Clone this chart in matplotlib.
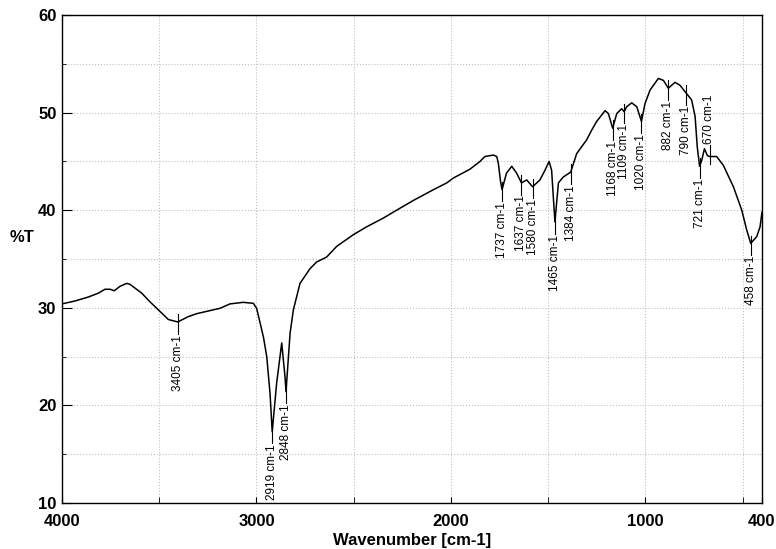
import numpy as np
import matplotlib.pyplot as plt
from matplotlib.ticker import FixedLocator

# IR spectrum (wavenumber in cm-1, %T)
wavenumber = [4000, 3933, 3865, 3813, 3779, 3753, 3731, 3702, 3667, 3650,
              3590, 3547, 3505, 3453, 3405, 3350, 3307, 3187, 3136, 3068,
              3016, 2999, 2964, 2947, 2930, 2919, 2896, 2870, 2853, 2848,
              2827, 2810, 2776, 2725, 2690, 2639, 2587, 2501, 2433, 2347,
              2262, 2193, 2090, 2021, 1987, 1902, 1850, 1825, 1782, 1764,
              1756, 1745, 1737, 1714, 1687, 1662, 1637, 1610, 1580, 1542,
              1516, 1495, 1482, 1465, 1447, 1422, 1384, 1353, 1302, 1276,
              1250, 1207, 1190, 1168, 1147, 1122, 1109, 1096, 1070, 1044,
              1020, 1002, 976, 933, 907, 882, 847, 822, 790, 762,
              744, 733, 721, 710, 696, 681, 670, 633, 599, 547,
              504, 479, 458, 427, 410, 400]
transmittance = [30.4, 30.7, 31.1, 31.5, 31.9, 31.9, 31.75, 32.2, 32.5, 32.4,
                 31.5, 30.6, 29.8, 28.8, 28.55, 29.1, 29.4, 29.95, 30.4, 30.56,
                 30.46, 29.95, 27.0, 25.0, 21.2, 17.3, 22.3, 26.4, 22.9, 21.4,
                 27.4, 29.8, 32.5, 34.0, 34.7, 35.2, 36.3, 37.5, 38.3, 39.2,
                 40.2, 41.0, 42.1, 42.8, 43.3, 44.2, 45.0, 45.5, 45.65, 45.5,
                 44.8, 43.0, 42.1, 43.8, 44.5, 43.8, 42.8, 43.1, 42.4, 43.1,
                 44.1, 45.0, 44.1, 38.8, 42.8, 43.4, 43.9, 45.8, 47.2, 48.2,
                 49.1, 50.2, 49.9, 48.4, 49.9, 50.4, 50.1, 50.6, 51.0, 50.6,
                 49.1, 50.9, 52.3, 53.5, 53.3, 52.5, 53.1, 52.8, 52.0, 51.3,
                 49.6, 46.5, 44.5, 45.1, 46.3, 45.6, 45.5, 45.5, 44.6, 42.4,
                 40.0, 38.0, 36.6, 37.3, 38.3, 39.8]

# labelled peaks
peaks = [3405, 2919, 2848, 1737, 1637, 1580, 1465, 1384,
         1168, 1109, 1020, 882, 790, 721, 670, 458]
peak_T = [28.55, 17.3, 21.4, 42.1, 42.8, 42.4, 38.8, 43.9,
          48.4, 50.1, 49.1, 52.5, 52.0, 44.5, 45.5, 36.6]
label_above = [670]

xticks = [4000, 3000, 2000, 1000, 400]
xminor = [3500, 2500, 1500, 500]

plt.rcParams['font.family'] = ['Liberation Sans', 'DejaVu Sans']

fig = plt.figure(figsize=(7.76, 5.49), dpi=100)
ax = fig.add_axes([62/776, 1-503/549, 700/776, 488/549])

ax.plot(wavenumber, transmittance, color='black', linewidth=1.1)

for wn, t in zip(peaks, peak_T):
    if wn in label_above:
        ax.plot([wn, wn], [t - 0.8, t + 1.2], color='black', linewidth=0.8)
        ax.text(wn, t + 1.3, str(wn) + ' cm-1', rotation=90, fontsize=8.5,
                ha='center', va='bottom')
    else:
        ax.plot([wn, wn], [t + 0.8, t - 1.2], color='black', linewidth=0.8)
        ax.text(wn, t - 1.3, str(wn) + ' cm-1', rotation=90, fontsize=8.5,
                ha='center', va='top')

ax.set_xlim(4000, 400)
ax.set_ylim(10, 60)
ax.xaxis.set_major_locator(FixedLocator(xticks))
ax.xaxis.set_minor_locator(FixedLocator(xminor))
ax.set_yticks([10, 20, 30, 40, 50, 60])
ax.set_yticks([15, 25, 35, 45, 55], minor=True)
ax.tick_params(which='both', direction='in', labelsize=12)
ax.tick_params(axis='x', which='both', length=4, pad=8)
ax.tick_params(axis='y', which='major', length=7, pad=4)
ax.tick_params(axis='y', which='minor', length=3)
for lab in ax.get_xticklabels() + ax.get_yticklabels():
    lab.set_fontweight('bold')

ax.grid(which='both', color='#c0c0c0', linestyle=':', linewidth=0.8)
ax.set_axisbelow(True)
for s in ax.spines.values():
    s.set_linewidth(1.0)

ax.set_xlabel('Wavenumber [cm-1]', fontsize=12, fontweight='bold', labelpad=3)
fig.text(10/776, 1-238/549, '%T', fontsize=12, fontweight='bold', va='center')

plt.savefig('out.png', dpi=100)
